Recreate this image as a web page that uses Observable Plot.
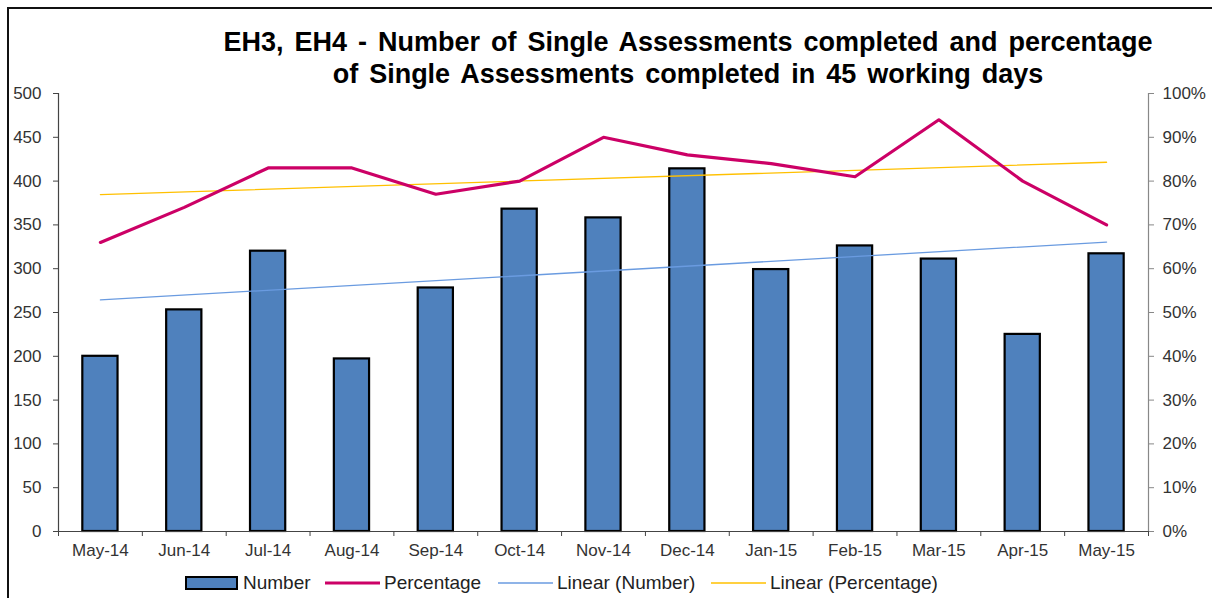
<!DOCTYPE html>
<html>
<head>
<meta charset="utf-8">
<script src="https://cdn.jsdelivr.net/npm/d3@7"></script>
<script src="https://cdn.jsdelivr.net/npm/@observablehq/plot@0.6"></script>
<style>
  body { margin: 0; background: #fff; font-family: "Liberation Sans", Arial, sans-serif; }
  #wrap { position: relative; width: 1212px; height: 598px; overflow: hidden; }
  #border { position: absolute; left: 7px; top: 7px; width: 1300px; height: 700px; border-top: 2px solid #111; border-left: 2px solid #111; }
  #title { position: absolute; left: 100px; width: 1176px; top: 26px; text-align: center; font-weight: bold; font-size: 27px; line-height: 32px; color: #000; word-spacing: 3.5px; }
  .leg { position: absolute; top: 573px; font-size: 19px; color: #222; display: flex; align-items: center; height: 20px; white-space: nowrap; }
  .leg svg { display: block; margin-right: 4px; }
  #chart { position: absolute; left: 0; top: 0; }
</style>
</head>
<body>
<div id="wrap">
  <div id="chart"></div>
  <div id="border"></div>
  <div id="title">EH3, EH4 - Number of Single Assessments completed and percentage<br>of Single Assessments completed in 45 working days</div>
  <div class="leg" style="left:185px"><svg width="54" height="14"><rect x="1" y="1" width="51" height="12" fill="#4F81BD" stroke="#000" stroke-width="2"/></svg>Number</div>
  <div class="leg" style="left:325px"><svg width="55" height="14"><line x1="0" x2="55" y1="7" y2="7" stroke="#CC0066" stroke-width="3"/></svg>Percentage</div>
  <div class="leg" style="left:498px"><svg width="55" height="14"><line x1="0" x2="55" y1="7" y2="7" stroke="#6A9BE0" stroke-width="1.3"/></svg>Linear (Number)</div>
  <div class="leg" style="left:711px"><svg width="55" height="14"><line x1="0" x2="55" y1="7" y2="7" stroke="#FFC000" stroke-width="1.3"/></svg>Linear (Percentage)</div>
</div>
<script>
const months = ["May-14","Jun-14","Jul-14","Aug-14","Sep-14","Oct-14","Nov-14","Dec-14","Jan-15","Feb-15","Mar-15","Apr-15","May-15"];
const numbers = [200, 253, 320, 197, 278, 368, 358, 414, 299, 326, 311, 225, 317];
const percentages = [66, 74, 83, 83, 77, 80, 90, 86, 84, 81, 94, 80, 70];
const leftTicks = [0, 50, 100, 150, 200, 250, 300, 350, 400, 450, 500];
const rightTicks = [0, 10, 20, 30, 40, 50, 60, 70, 80, 90, 100];

const data = months.map((m, i) => ({i, month: m, number: numbers[i], pct: percentages[i]}));
const pctToY = p => p * 5;
const half = 0.21;
const boundaries = d3.range(months.length + 1).map(k => k - 0.5);

const chart = Plot.plot({
  width: 1212,
  height: 598,
  marginTop: 93,
  marginBottom: 67,
  marginLeft: 58,
  marginRight: 64,
  style: {fontFamily: "Liberation Sans, Arial, sans-serif", fontSize: "17px", color: "#333", background: "transparent"},
  x: {type: "linear", domain: [-0.5, months.length - 0.5]},
  y: {domain: [0, 500]},
  marks: [
    Plot.rectY(data, {x1: d => d.i - half, x2: d => d.i + half, y: "number", fill: "#4F81BD", stroke: "#000", strokeWidth: 2.2}),
    Plot.linearRegressionY(data, {x: "i", y: "number", stroke: "#6A9BE0", strokeWidth: 1.3, ci: 0}),
    Plot.linearRegressionY(data, {x: "i", y: d => pctToY(d.pct), stroke: "#FFC000", strokeWidth: 1.3, ci: 0}),
    Plot.line(data, {x: "i", y: d => pctToY(d.pct), stroke: "#CC0066", strokeWidth: 3.2}),
    Plot.ruleX([-0.5], {stroke: "#444", strokeWidth: 1.2}),
    Plot.ruleX([months.length - 0.5], {stroke: "#888", strokeWidth: 1.2}),
    Plot.ruleY([0], {stroke: "#444", strokeWidth: 1.2}),
    Plot.axisY({anchor: "left", ticks: leftTicks, tickSize: 5, tickPadding: 12, stroke: "#444", label: null, fill: "#333"}),
    Plot.axisY({anchor: "right", ticks: rightTicks.map(pctToY), tickFormat: d => (d / 5) + "%", tickSize: 5, tickPadding: 9, stroke: "#888", label: null, fill: "#333"}),
    Plot.axisX({anchor: "bottom", ticks: boundaries, tickFormat: () => "", tickSize: 5, stroke: "#444", label: null}),
    Plot.axisX({anchor: "bottom", ticks: d3.range(months.length), tickFormat: i => months[i], tickSize: 0, tickPadding: 12, label: null, fill: "#333"})
  ]
});
document.getElementById("chart").appendChild(chart);
</script>
</body>
</html>
